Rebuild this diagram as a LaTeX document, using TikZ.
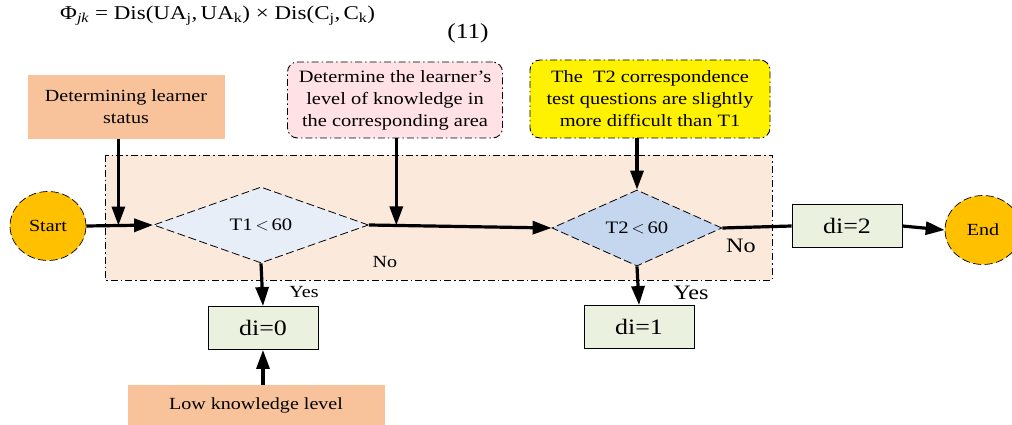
\documentclass[tikz,border=0pt]{standalone}
\usepackage{fontspec}
\setmainfont[FakeStretch=1.18]{Liberation Serif}
\usetikzlibrary{shapes.geometric,arrows.meta,calc}

\definecolor{panelfill}{HTML}{FBE9DB}
\definecolor{peach}{HTML}{F8C39B}
\definecolor{pinkfill}{HTML}{FFE1E6}
\definecolor{startfill}{HTML}{FFC000}
\definecolor{dionefill}{HTML}{E8EEF7}
\definecolor{ditwofill}{HTML}{C5D7EE}
\definecolor{difill}{HTML}{EBF1DF}

\tikzset{
    dashdot/.style={dash pattern=on 7pt off 3pt on 1.5pt off 3pt},
    longdash/.style={dash pattern=on 8pt off 3.5pt},
    flowarrow/.style={line width=3.2pt, -{Triangle[length=19pt, width=13pt]}},
    flowline/.style={line width=3.2pt},
    terminal/.style={ellipse, draw, longdash, line width=0.7pt, fill=startfill, minimum width=76pt, minimum height=69pt, inner sep=0pt, font=\fontsize{17}{19}\selectfont},
    decision/.style={diamond, draw, longdash, line width=0.8pt, inner sep=0pt, minimum width=#1, minimum height=76pt, font=\fontsize{17.5}{19}\selectfont},
    result/.style={rectangle, draw, line width=0.9pt, fill=difill, minimum width=110pt, minimum height=43pt, font=\fontsize{22}{24}\selectfont},
    notebox/.style={rectangle, fill=peach, align=center, font=\fontsize{17}{22}\selectfont},
    hintbox/.style={rectangle, rounded corners=10pt, draw, dashdot, line width=0.9pt, align=center, font=\fontsize{17.3}{22}\selectfont}
}

\begin{document}
\begin{tikzpicture}[x=1pt, y=-1pt]
    \useasboundingbox (0,0) rectangle (1012,425);

    % Formula (11)
    \node[anchor=west, inner sep=0pt, font=\fontsize{19.5}{21}\selectfont] (formula) at (60,16)
        {Φ\textsubscript{\textit{jk}}\ =\ Dis(UA\textsubscript{j},\,UA\textsubscript{k})\ ×\ Dis(C\textsubscript{j},\,C\textsubscript{k})};
    \node[font=\fontsize{21.5}{23}\selectfont] (eqnum) at (468,33) {(11)};

    % Background panel (dash-dot)
    \draw[dashdot, line width=0.9pt, fill=panelfill] (105,155) rectangle (772,280);

    % Start / End
    \node[terminal] (start) at (48,226) {Start};
    \node[terminal] (end) at (983,230) {End};

    % Decisions
    \node[decision=215pt, fill=dionefill] (t1) at (261,225) {T1\,$<$\,60};
    \node[decision=170pt, fill=ditwofill] (t2) at (637,228) {T2\,$<$\,60};

    % Results
    \node[result] (di0) at (263,328) {di=0};
    \node[result] (di1) at (639,327) {di=1};
    \node[result] (di2) at (847,226) {di=2};

    % Side notes
    \node[notebox, minimum width=197pt, minimum height=64pt] (status) at (126,107)
        {Determining learner\\status};
    \node[notebox, minimum width=257pt, minimum height=40pt] (low) at (256,405)
        {Low knowledge level};
    \node[hintbox, fill=pinkfill, minimum width=215pt, minimum height=76pt] (pink) at (395,100)
        {Determine the learner's\\level of knowledge in\\the corresponding area};
    \node[hintbox, fill=yellow, minimum width=240pt, minimum height=78pt] (hard) at (650,99)
        {The\ \ T2 correspondence\\test questions are slightly\\more difficult than T1};

    % Joints on the main line
    \coordinate (j1) at ($(start.east)!0.48!(t1.west)$);
    \coordinate (j2) at ($(t1.east)!0.15!(t2.west)$);

    % Main flow
    \draw[flowarrow] (start.east) -- (t1.west);
    \draw[flowarrow] (t1.east) -- (t2.west);
    \draw[flowline] (t2.east) -- (di2.west);
    \draw[flowarrow] (di2.east) -- (end.west);
    \draw[flowarrow] (t1.south) -- (di0.north);
    \draw[flowarrow] (t2.south) -- (di1.north);

    % Inputs from the notes
    \draw[flowarrow] (status.south -| j1) -- (j1);
    \draw[flowarrow] (pink.south -| j2) -- (j2);
    \draw[flowarrow] (hard.south -| t2) -- (t2.north);
    \draw[flowarrow] (low.north -| di0) -- (di0.south);

    % Branch labels
    \node[font=\fontsize{17}{19}\selectfont] (no1) at (385,262) {No};
    \node[font=\fontsize{17}{19}\selectfont] (yes1) at (304,292) {Yes};
    \node[font=\fontsize{20.5}{22}\selectfont] (no2) at (741,246) {No};
    \node[font=\fontsize{20.5}{22}\selectfont] (yes2) at (691,293) {Yes};
\end{tikzpicture}
\end{document}
